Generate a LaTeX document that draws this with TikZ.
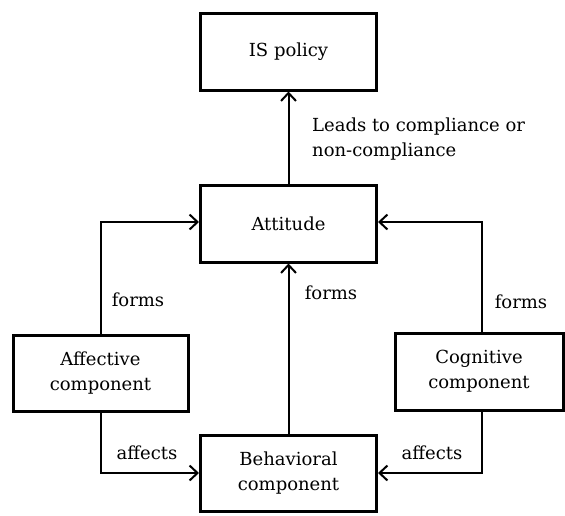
\documentclass[tikz,border=0pt]{standalone}
\usepackage{fontspec}
\setmainfont{DejaVu Serif}
\usetikzlibrary{arrows.meta}
\begin{document}
\begin{tikzpicture}[x=1pt,y=-1pt,
  font=\fontsize{18}{25}\selectfont,
  box/.style={draw=black,line width=3pt,fill=white,align=center,
    minimum height=77pt,inner sep=0pt},
  link/.style={draw=black,line width=2pt,
    -{Straight Barb[length=8pt,width=15pt,line width=2pt]}},
  lbl/.style={inner sep=0pt,align=left}]
\useasboundingbox[fill=white] (0,0) rectangle (565,515);

% the five boxes
\node[box,minimum width=176pt] (isp) at (288.5,51.5) {IS policy};
\node[box,minimum width=176pt] (att) at (288.5,223.5) {Attitude};
\node[box,minimum width=175pt,minimum height=76pt] (aff) at (100.5,373) {Affective\\component};
\node[box,minimum width=168pt] (cog) at (479,371.5) {Cognitive\\component};
\node[box,minimum width=176pt,minimum height=76pt] (beh) at (288.5,473) {Behavioral\\component};

% connectors
\draw[link] (att.north) -- (isp.south);
\draw[link] (beh.north) -- (att.south);
\draw[link] (aff.north) |- ([yshift=1.5pt]att.west);
\draw[link] (aff.south) |- (beh.west);
\draw[link] ([xshift=3pt]cog.north) |- ([yshift=1.5pt]att.east);
\draw[link] ([xshift=3pt]cog.south) |- (beh.east);

% connector labels
\node[lbl,anchor=west] (l1) at (312,139) {Leads to compliance or\\non-compliance};
\node[lbl] (l2) at (331,293) {forms};
\node[lbl] (l3) at (138,300) {forms};
\node[lbl] (l4) at (521,302) {forms};
\node[lbl] (l5) at (147,453) {affects};
\node[lbl] (l6) at (432,453) {affects};
\end{tikzpicture}
\end{document}
